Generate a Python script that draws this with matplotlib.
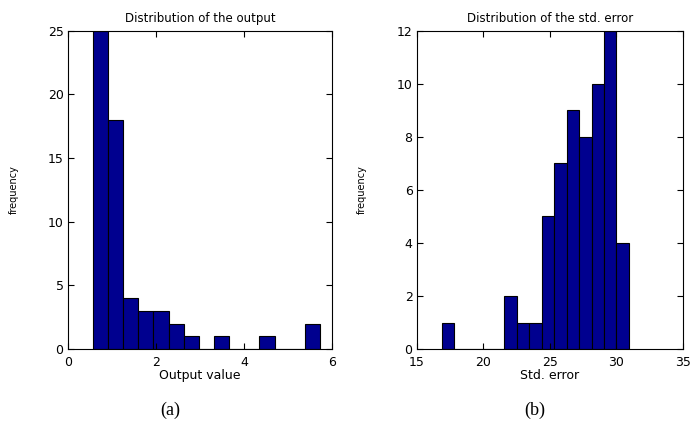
import numpy as np
import matplotlib
matplotlib.use("Agg")
import matplotlib.pyplot as plt

plt.rcParams["font.family"] = ["DejaVu Sans"]

# panel (a): histogram of the output, 15 bins
out_lo, out_hi = 0.567, 5.73
out_counts = [25, 18, 4, 3, 3, 2, 1, 0, 1, 0, 0, 1, 0, 0, 2]
out_xticks = [0, 2, 4, 6]
out_yticks = [0, 5, 10, 15, 20, 25]

# panel (b): histogram of the std. error, 15 bins
se_lo, se_hi = 16.88, 30.96
se_counts = [1, 0, 0, 0, 0, 2, 1, 1, 5, 7, 9, 8, 10, 12, 4]
se_xticks = [15, 20, 25, 30, 35]
se_yticks = [0, 2, 4, 6, 8, 10, 12]

BAR = "#00008f"

fig = plt.figure(figsize=(6.91, 4.32), dpi=100)
ax1 = fig.add_axes([0.098, 0.192, 0.3825, 0.737])
ax2 = fig.add_axes([0.603, 0.192, 0.385, 0.737])


def draw_hist(ax, lo, hi, counts, xticks, yticks, title, xlabel, ylab_x):
    edges = np.linspace(lo, hi, len(counts) + 1)
    ax.bar(edges[:-1], counts, width=np.diff(edges), align="edge",
           color=BAR, edgecolor="black", linewidth=0.8)
    ax.set_xlim(xticks[0], xticks[-1])
    ax.set_ylim(yticks[0], yticks[-1])
    ax.set_xticks(xticks)
    ax.set_yticks(yticks)
    ax.tick_params(direction="in", top=True, right=True, length=4,
                   width=0.8, labelsize=9)
    ax.tick_params(axis="x", pad=5)
    ax.tick_params(axis="y", pad=3)
    for lbl in ax.get_yticklabels():
        lbl.set_verticalalignment("center_baseline")
    for s in ax.spines.values():
        s.set_linewidth(0.8)
    ax.set_title(title, fontsize=8.5, pad=6)
    ax.set_xlabel(xlabel, fontsize=9, labelpad=0)
    ax.set_ylabel("frequency", fontsize=7)
    ax.yaxis.set_label_coords(ylab_x, 0.5, transform=fig.transFigure)


draw_hist(ax1, out_lo, out_hi, out_counts, out_xticks, out_yticks,
          "Distribution of the output", "Output value", 19 / 691)
draw_hist(ax2, se_lo, se_hi, se_counts, se_xticks, se_yticks,
          "Distribution of the std. error", "Std. error", 367 / 691)
for ax in (ax1, ax2):
    ax.yaxis.label.set_y(1 - 190 / 432)

fig.text(170 / 691, 1 - 410 / 432, "(a)", family="Liberation Serif",
         fontsize=13, ha="center", va="center")
fig.text(535 / 691, 1 - 410 / 432, "(b)", family="Liberation Serif",
         fontsize=13, ha="center", va="center")

fig.savefig("out.png", dpi=100)
